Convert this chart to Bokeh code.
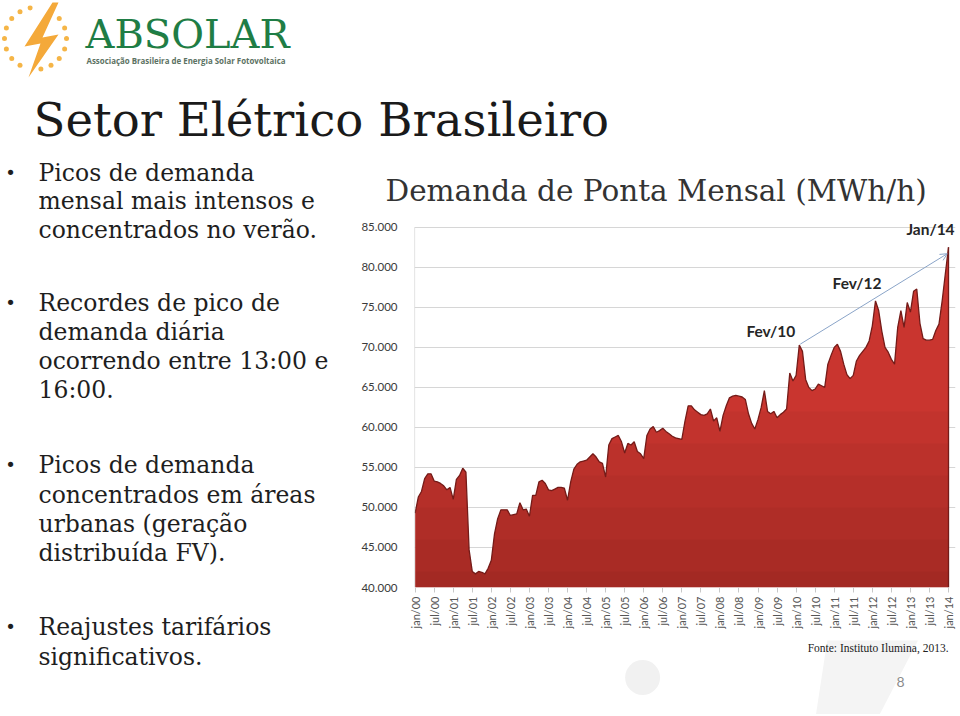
import math
import numpy as np
from bokeh.plotting import figure
from bokeh.models import Range1d, FixedTicker, Label, Arrow, OpenHead
from bokeh.layouts import column, row
from bokeh.core.properties import value
from bokeh.embed import file_html
from bokeh.resources import INLINE

# ---------------- DATA ----------------
# monthly peak demand (MWh/h), jan/2000 .. jan/2014 (index = months since jan/00)
demand_2000 = [49300, 51300, 52000, 53600, 54200, 54200, 53300, 53200, 53000, 52700, 52200, 52500]
demand_2001 = [51000, 53500, 54000, 54900, 54400, 44700, 42000, 41700, 42000, 41900, 41700, 42400]
demand_2002 = [43400, 46700, 48600, 49700, 49700, 49700, 49000, 49100, 49200, 50600, 49700, 49800]
demand_2003 = [48900, 51500, 51500, 53200, 53400, 53000, 52200, 52100, 52300, 52500, 52500, 52400]
demand_2004 = [50900, 53200, 54800, 55400, 55700, 55800, 55900, 56300, 56700, 56300, 55700, 55500]
demand_2005 = [53800, 57800, 58600, 58800, 59000, 58200, 56800, 58000, 57800, 58200, 57000, 56700]
demand_2006 = [56100, 59000, 59800, 60100, 59400, 59600, 59900, 59500, 59200, 58900, 58700, 58600]
demand_2007 = [58500, 60800, 62700, 62700, 62200, 61900, 61600, 61500, 61700, 62300, 60800, 61200]
demand_2008 = [59500, 61500, 62700, 63700, 63900, 64000, 63900, 63800, 63500, 61700, 60500, 59800]
demand_2009 = [61000, 62500, 64600, 62000, 61700, 62000, 61200, 61600, 61900, 62300, 66800, 65800]
demand_2010 = [66500, 70300, 69500, 66000, 65000, 64600, 64800, 65400, 65200, 65000, 67900, 69000]
demand_2011 = [70000, 70400, 69500, 67900, 66600, 66100, 66500, 68300, 69000, 69500, 70000, 70800]
demand_2012 = [72700, 75800, 74600, 72000, 70000, 69400, 68500, 67900, 72500, 74600, 72500, 75600]
demand_2013 = [74400, 77000, 77300, 73000, 71100, 70900, 70900, 71000, 72100, 72900, 75800, 79200]
demand_2014 = [82500]

x_tick_labels = ["jan/00", "jul/00", "jan/01", "jul/01", "jan/02", "jul/02", "jan/03", "jul/03",
                 "jan/04", "jul/04", "jan/05", "jul/05", "jan/06", "jul/06", "jan/07", "jul/07",
                 "jan/08", "jul/08", "jan/09", "jul/09", "jan/10", "jul/10", "jan/11", "jul/11",
                 "jan/12", "jul/12", "jan/13", "jul/13", "jan/14"]
y_ticks = [40000, 45000, 50000, 55000, 60000, 65000, 70000, 75000, 80000, 85000]
y_tick_labels = ["40.000", "45.000", "50.000", "55.000", "60.000", "65.000", "70.000", "75.000", "80.000", "85.000"]

peak_labels = ["Fev/10", "Fev/12", "Jan/14"]
peak_months = [121, 145, 168]

chart_title = "Demanda de Ponta Mensal (MWh/h)"
slide_title = "Setor Elétrico Brasileiro"
logo_name = "ABSOLAR"
logo_subtitle = "Associação Brasileira de Energia Solar Fotovoltaica"
source_note = "Fonte: Instituto Ilumina, 2013."
page_number = "8"
bullets = [
    ["Picos de demanda", "mensal mais intensos e", "concentrados no verão."],
    ["Recordes de pico de", "demanda diária", "ocorrendo entre 13:00 e", "16:00."],
    ["Picos de demanda", "concentrados em áreas", "urbanas (geração", "distribuída FV)."],
    ["Reajustes tarifários", "significativos."],
]

demand = (demand_2000 + demand_2001 + demand_2002 + demand_2003 + demand_2004 + demand_2005 +
          demand_2006 + demand_2007 + demand_2008 + demand_2009 + demand_2010 + demand_2011 +
          demand_2012 + demand_2013 + demand_2014)
months = list(range(len(demand)))
x_tick_months = [6 * i for i in range(len(x_tick_labels))]

# ---------------- STYLE / LAYOUT ----------------
SERIF = "DejaVu Serif"
SANS = "Lato"
TXT = "#1e1e1e"
PAGE_W = 958
SPLIT_X = 339      # page x where the chart column starts
TOP_H = 150
CHART_H = 490
BOTTOM_H = 74
Y_END = 86600      # a little headroom above the 85.000 line for the Jan/14 label
X_START, X_END = -0.2, 170.2


def blank(w, h):
    f = figure(width=w, height=h, x_range=Range1d(0, w), y_range=Range1d(h, 0),
               toolbar_location=None, output_backend="svg", min_border=0,
               x_axis_type=None, y_axis_type=None, outline_line_color=None)
    f.background_fill_color = "white"
    f.border_fill_color = "white"
    return f


# ---- top band ----
top = blank(PAGE_W, TOP_H)
cx, cy, rr = 35, 38, 31
dx, dy = [], []
for k in range(18):
    ang = k * 20
    if 280 <= ang <= 310 or 90 <= ang <= 110:
        continue
    a = math.radians(ang)
    dx.append(cx + rr * math.cos(a))
    dy.append(cy + rr * math.sin(a))
top.scatter(dx, dy, size=5, color="#f5b547", line_color=None)
bolt_x = [52, 24, 40, 28, 58, 42, 58]
bolt_y = [2, 46, 43, 77, 34, 37, 2]
top.patch(bolt_x, bolt_y, fill_color="#f4a93a", line_color=None)
top.text([85], [33], text=[logo_name], text_font=value(SERIF), text_font_size="40px",
         text_color="#1f7d45", text_baseline="middle", text_align="left")
top.text([86], [60], text=[logo_subtitle],
         text_font=value("Open Sans"), text_font_size="7.9px", text_font_style="bold",
         text_color="#5c7263", text_baseline="middle", text_align="left")
top.text([33], [119], text=[slide_title], text_font=value(SERIF), text_font_size="46.6px",
         text_color="#1a1a1a", text_baseline="middle", text_align="left")

# ---- left column ----
LW, LH = SPLIT_X, 716 - 2 - TOP_H
left = blank(LW, LH)
oy = TOP_H
line_ys = [[172, 200, 229], [302, 331, 360, 389], [464, 494, 523, 552], [626, 656]]
for lines, ys in zip(bullets, line_ys):
    left.text([10], [ys[0] - oy], text=["•"], text_font=value("DejaVu Sans"), text_font_size="18px",
              text_color=TXT, text_baseline="middle", text_align="center")
    left.text([38] * len(lines), [y - oy for y in ys], text=lines, text_font=value(SERIF),
              text_font_size="23.5px", text_color=TXT, text_baseline="middle", text_align="left")

# ---- chart ----
CW = PAGE_W - SPLIT_X
frame_top = 587 - (Y_END - 40000) * 0.008
p = figure(width=CW, height=CHART_H, x_range=Range1d(X_START, X_END), y_range=Range1d(40000, Y_END),
           toolbar_location=None, output_backend="svg",
           min_border_left=414 - SPLIT_X, min_border_right=PAGE_W - 955,
           min_border_top=int(round(frame_top - TOP_H)), min_border_bottom=TOP_H + CHART_H - 587)
p.outline_line_color = None
p.background_fill_color = "white"
p.border_fill_color = "white"
p.title.text = chart_title
p.title.text_font = SERIF
p.title.text_font_size = "29.5px"
p.title.text_font_style = "normal"
p.title.text_color = "#333333"
p.title.align = "left"
p.title.offset = -29
p.title.standoff = 13

p.varea(x=months, y1=40000, y2=demand, fill_color="#c9352f", fill_alpha=1.0)
for lvl in [42000, 46000, 50000, 54000, 58000, 62000]:
    p.varea(x=months, y1=40000, y2=np.minimum(demand, lvl), fill_color="black", fill_alpha=0.03)
p.line(months, demand, line_color="#741b18", line_width=1.3)
p.line([months[-1], months[-1]], [y_ticks[0], demand[-1]], line_color="#741b18", line_width=1.3)
# y-axis line only over the 40.000 .. 85.000 span
p.line([X_START, X_START], [y_ticks[0], y_ticks[-1]], line_color="#cfcfcf", line_width=1.2)

p.xgrid.visible = False
p.ygrid.ticker = FixedTicker(ticks=y_ticks)
p.ygrid.grid_line_color = "#d6d6d6"
p.ygrid.grid_line_width = 1.2
p.ygrid.level = "underlay"

p.yaxis.ticker = FixedTicker(ticks=y_ticks)
p.yaxis.major_label_overrides = dict(zip(y_ticks, y_tick_labels))
p.yaxis.axis_line_color = None
p.yaxis.major_tick_line_color = None
p.yaxis.minor_tick_line_color = None
p.yaxis.major_label_standoff = 11
p.yaxis.major_label_text_font = SANS
p.yaxis.major_label_text_font_size = "11.5px"
p.yaxis.major_label_text_color = "#3a3a3a"

p.xaxis.ticker = FixedTicker(ticks=x_tick_months)
p.xaxis.major_label_overrides = dict(zip(x_tick_months, x_tick_labels))
p.xaxis.major_label_orientation = math.pi / 2
p.xaxis.axis_line_color = None
p.xaxis.major_tick_line_color = "#c8c8c8"
p.xaxis.major_tick_in = 0
p.xaxis.major_tick_out = 5
p.xaxis.minor_tick_line_color = None
p.xaxis.major_label_standoff = 4
p.xaxis.major_label_text_font = SANS
p.xaxis.major_label_text_font_size = "11px"
p.xaxis.major_label_text_color = "#555555"

offsets = [(-4, 14, "right"), (6, 18, "right"), (-18, 18, "center")]
for lab, m, (xo, yo, al) in zip(peak_labels, peak_months, offsets):
    p.add_layout(Label(x=m, y=demand[m], text=lab, x_offset=xo, y_offset=yo, text_align=al,
                       text_baseline="middle", text_font=SANS, text_font_size="15.5px",
                       text_font_style="bold", text_color="#262626"))
p.add_layout(Arrow(end=OpenHead(size=7, line_color="#8aa4c8", line_width=1),
                   x_start=peak_months[0] + 0.3, y_start=demand[peak_months[0]] + 100,
                   x_end=peak_months[2] - 0.4, y_end=demand[peak_months[2]] - 800,
                   line_color="#8aa4c8", line_width=1))

# ---- bottom strip ----
bottom = blank(CW, 716 - 2 - TOP_H - CHART_H)
ox, oy = SPLIT_X, TOP_H + CHART_H
bottom.circle([600 - ox], [677 - oy], radius=20, fill_color="#f1f1f1", line_color=None)
bottom.patch([813 - ox, 921 - ox, 870 - ox, 798 - ox], [630 - oy, 630 - oy, 716 - oy, 716 - oy],
             fill_color="#f4f4f4", line_color=None)
bottom.text([950 - ox], [647 - oy], text=[source_note], text_font=value("Liberation Serif"),
            text_font_size="11.5px", text_color="#222222", text_baseline="middle", text_align="right")
bottom.text([895 - ox], [681 - oy], text=[page_number], text_font=value(SANS), text_font_size="14px",
            text_color="#8c8c8c", text_baseline="middle", text_align="center")

layout = column(top, row(left, column(p, bottom, spacing=0), spacing=0), spacing=0)
open("out.html", "w").write(file_html(layout, INLINE))
